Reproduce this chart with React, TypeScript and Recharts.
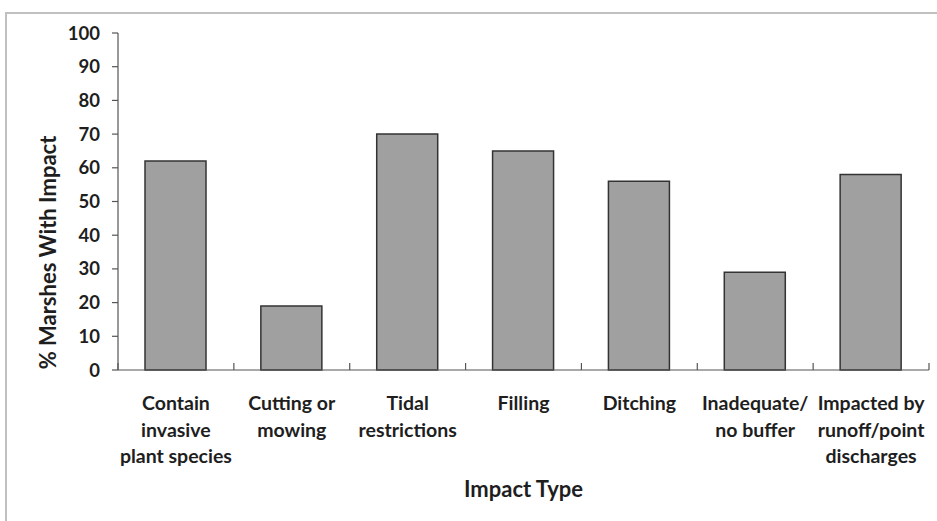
import { Bar, BarChart, XAxis, YAxis } from "recharts";

const categories = [
	"Contain\ninvasive\nplant species",
	"Cutting or\nmowing",
	"Tidal\nrestrictions",
	"Filling",
	"Ditching",
	"Inadequate/\nno buffer",
	"Impacted by\nrunoff/point\ndischarges",
];
const marshesWithImpact = [62, 19, 70, 65, 56, 29, 58];
const yTicks = [0, 10, 20, 30, 40, 50, 60, 70, 80, 90, 100];

const data = categories.map((c, i) => ({ category: c, value: marshesWithImpact[i] }));

const W = 937;
const H = 521;
const M = { top: 33, right: 8, bottom: 21, left: 58 };
const Y_AXIS_W = 60;
const X_AXIS_H = 130;
const FONT = "Lato, 'Open Sans', sans-serif";
const TEXT = "#1e1e1e";
const AXIS = "#555";
const band = (W - M.left - Y_AXIS_W - M.right) / categories.length;

function CategoryTick(props: any) {
	const { x, y, payload, index } = props;
	const lines = String(payload.value).split("\n");
	const axisY = y - 8;
	return (
		<g>
			<line x1={x - band / 2} x2={x - band / 2} y1={axisY} y2={axisY - 7} stroke={AXIS} strokeWidth={1.2} />
			{index === categories.length - 1 && (
				<line x1={x + band / 2} x2={x + band / 2} y1={axisY} y2={axisY - 7} stroke={AXIS} strokeWidth={1.2} />
			)}
			<text x={x} y={axisY + 40} textAnchor="middle" fill={TEXT} fontFamily={FONT} fontWeight={700} fontSize={19.5}>
				{lines.map((l, i) => (
					<tspan key={i} x={x} dy={i === 0 ? 0 : 26.5}>
						{l}
					</tspan>
				))}
			</text>
		</g>
	);
}

function YTitle(props: any) {
	const vb = props.viewBox;
	const cx = vb.x - 11;
	const cy = vb.y + vb.height / 2 + 51;
	return (
		<text
			x={cx}
			y={cy}
			transform={`rotate(-90 ${cx} ${cy})`}
			textAnchor="middle"
			dominantBaseline="central"
			fill={TEXT}
			fontFamily={FONT}
			fontWeight={700}
			fontSize={22}
		>
			% Marshes With Impact
		</text>
	);
}

export default function App() {
	return (
		<div style={{ position: "absolute", left: 0, top: 0, width: W, height: H, background: "white", overflow: "hidden" }}>
			<BarChart width={W} height={H} data={data} margin={M} barSize={61}>
				<XAxis
					dataKey="category"
					height={X_AXIS_H}
					axisLine={{ stroke: AXIS, strokeWidth: 1.2 }}
					tickLine={false}
					tick={<CategoryTick />}
					interval={0}
					label={{
						value: "Impact Type",
						position: "insideBottom",
						offset: 3,
						fill: TEXT,
						fontFamily: FONT,
						fontWeight: 700,
						fontSize: 22,
					}}
				/>
				<YAxis
					width={Y_AXIS_W}
					domain={[0, 100]}
					ticks={yTicks}
					interval={0}
					tickSize={6}
					tickMargin={12}
					axisLine={{ stroke: AXIS, strokeWidth: 1.2 }}
					tickLine={{ stroke: AXIS, strokeWidth: 1.2 }}
					tick={{ fill: TEXT, fontFamily: FONT, fontWeight: 700, fontSize: 18.5 }}
					label={<YTitle />}
				/>
				<Bar dataKey="value" fill="#a0a0a0" stroke="#333" strokeWidth={1.5} isAnimationActive={false} />
			</BarChart>
			<div style={{ position: "absolute", top: 12, left: 5, width: W, height: 2, background: "#c0c0c0" }} />
			<div style={{ position: "absolute", top: 12, left: 5, height: H, width: 2, background: "#c0c0c0" }} />
		</div>
	);
}
